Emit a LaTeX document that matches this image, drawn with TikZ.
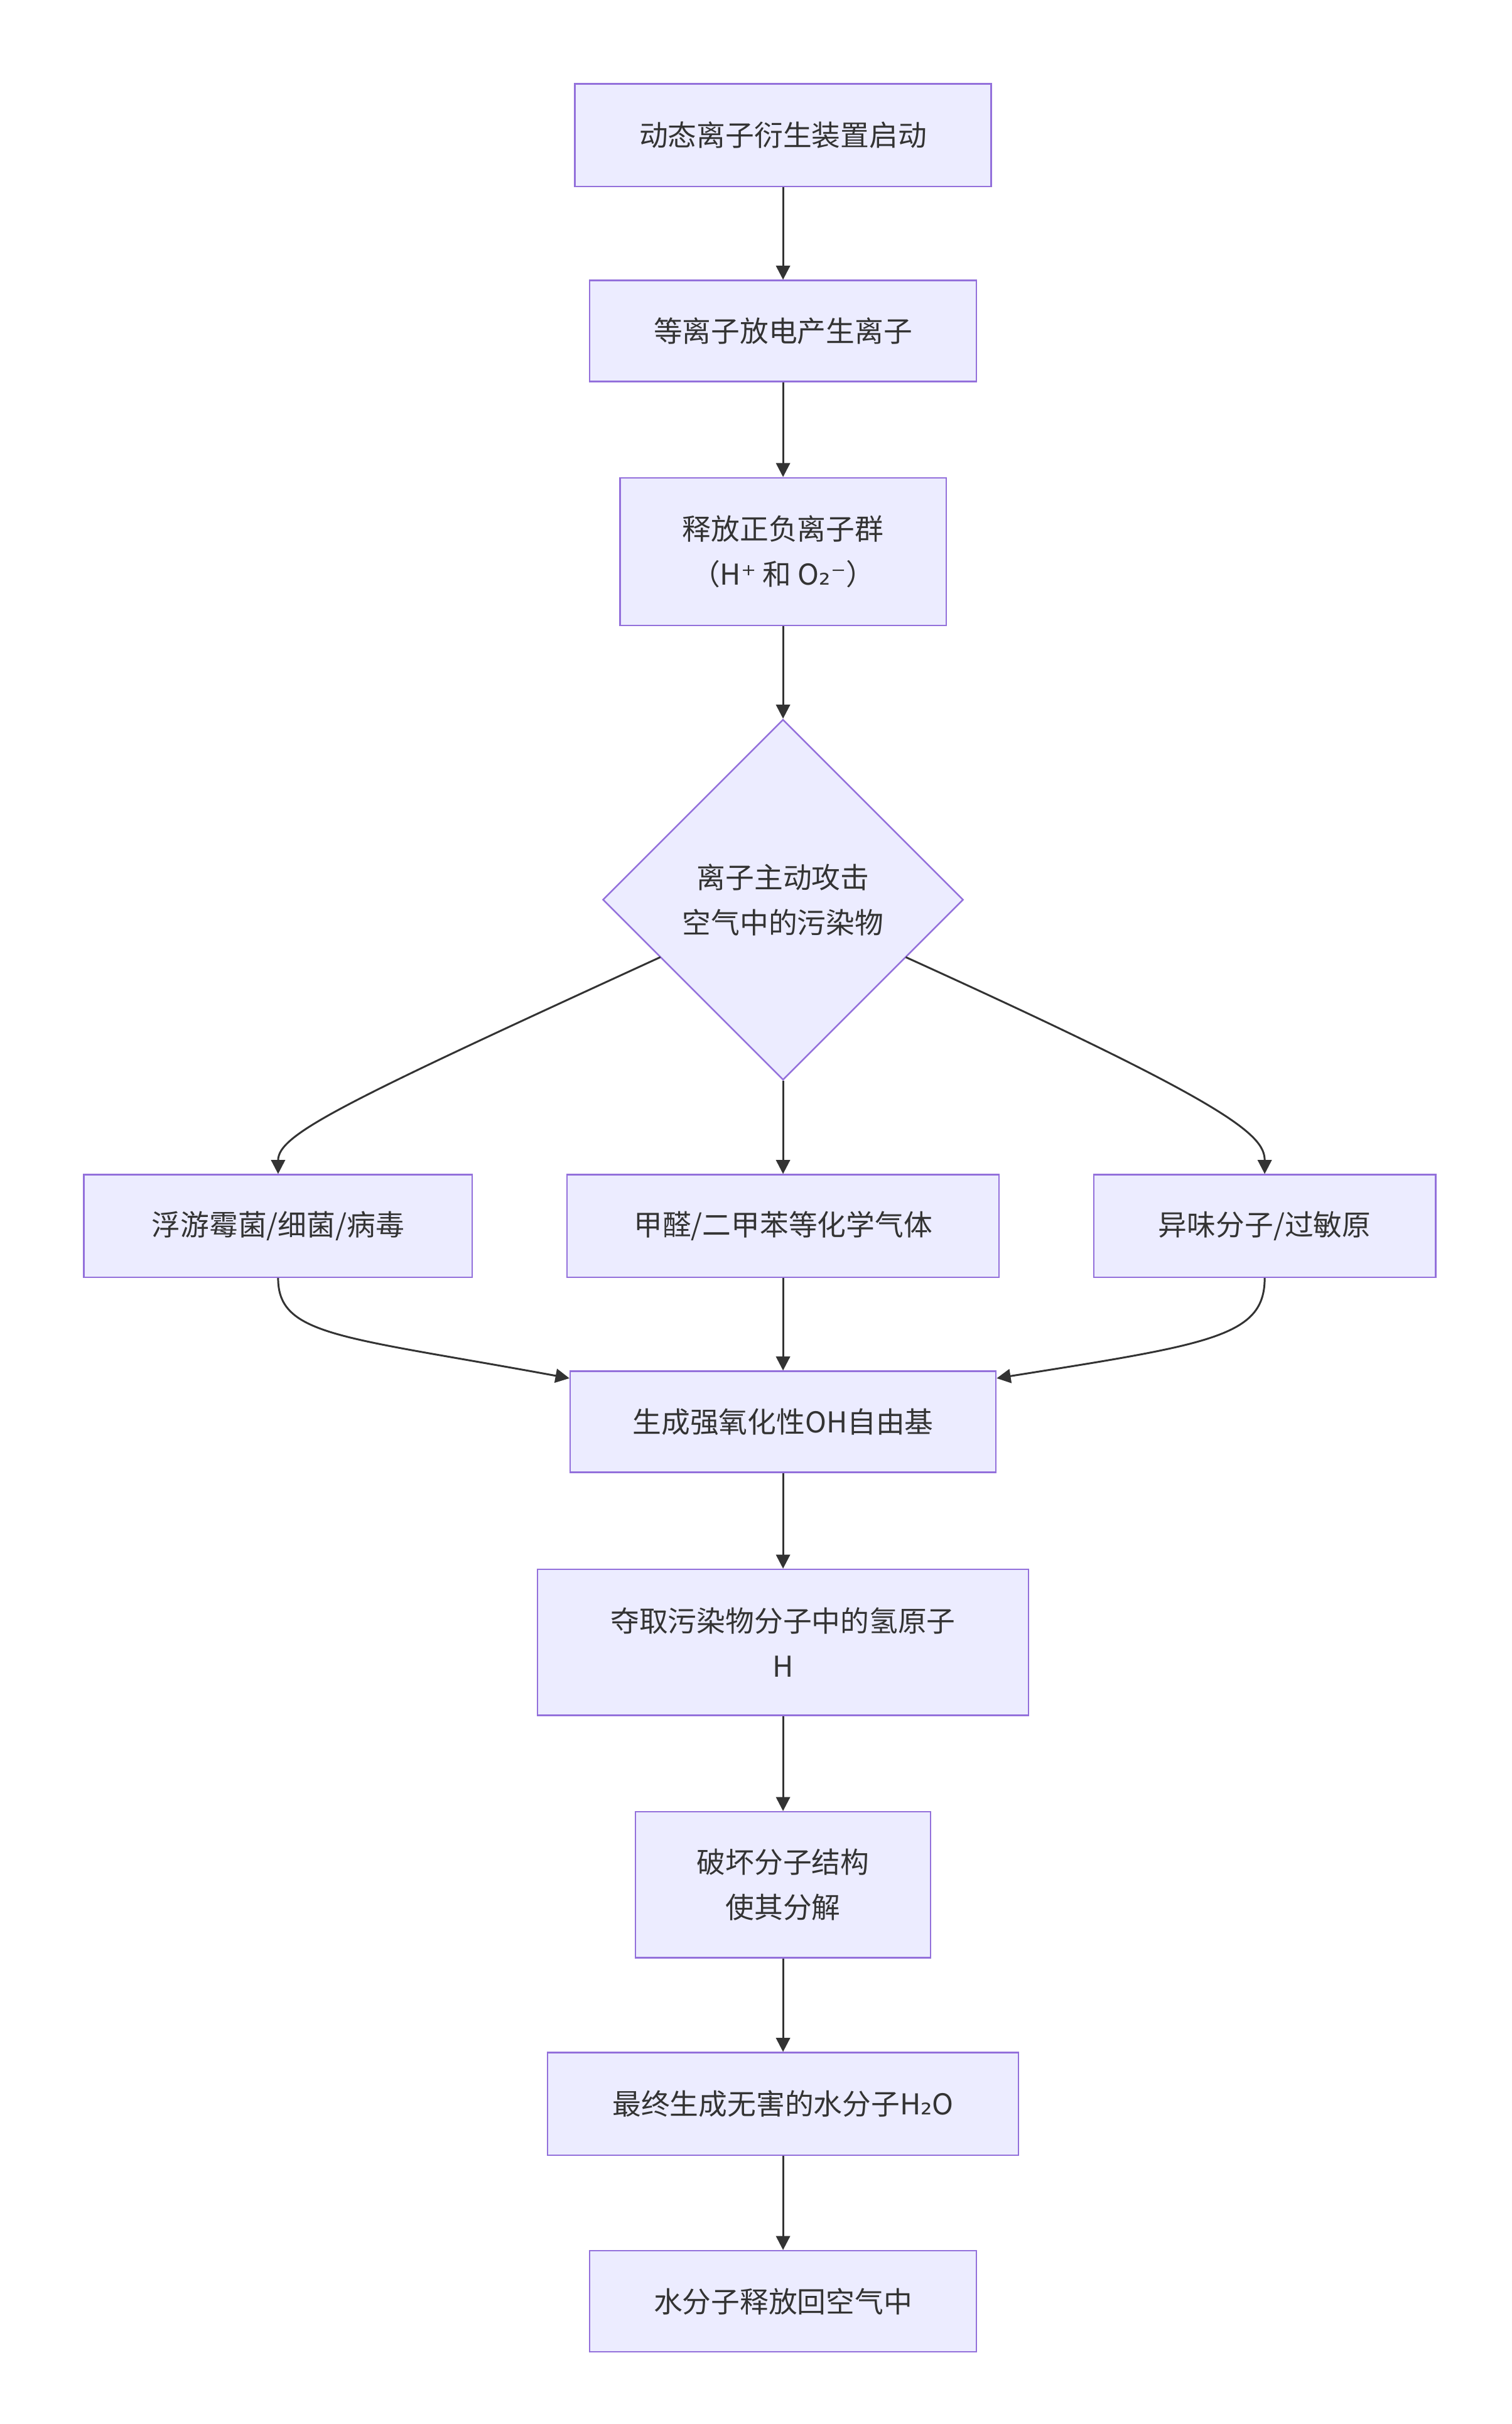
\documentclass[tikz,border=0pt]{standalone}
\usepackage{fontspec}
\setmainfont{Noto Sans CJK SC}
\newfontfamily\symf{DejaVu Sans}
\usetikzlibrary{shapes.geometric,arrows.meta}
\definecolor{bfill}{HTML}{ECECFF}
\definecolor{bline}{HTML}{9370DB}
\definecolor{ln}{HTML}{333333}
\begin{document}
\begin{tikzpicture}[x=1pt,y=-1pt,
 box/.style={draw=bline,fill=bfill,line width=1pt,inner sep=0pt,align=center,text=ln,font=\fontsize{18.5}{29}\selectfont},
 arr/.style={draw=ln,line width=1.2pt,-{Triangle[length=9pt,width=9pt]}}]
\useasboundingbox (0,0) rectangle (973,1560);
\node[box,minimum width=268pt,minimum height=66pt] (a) at (504,87) {动态离子衍生装置启动};
\node[box,minimum width=249pt,minimum height=65pt] (b) at (504,213) {等离子放电产生离子};
\node[box,minimum width=210pt,minimum height=95pt] (c) at (504,355) {释放正负离子群\\（H{\symf ⁺} 和 O{\symf ₂⁻}）};
\node[box,diamond,minimum width=232pt,minimum height=232pt] (d) at (504,579) {离子主动攻击\\空气中的污染物};
\node[box,minimum width=250pt,minimum height=66pt] (e) at (179,789) {浮游霉菌/细菌/病毒};
\node[box,minimum width=278pt,minimum height=66pt] (f) at (504,789) {甲醛/二甲苯等化学气体};
\node[box,minimum width=220pt,minimum height=66pt] (g) at (814,789) {异味分子/过敏原};
\node[box,minimum width=274pt,minimum height=65pt] (h) at (504,915) {生成强氧化性OH自由基};
\node[box,minimum width=316pt,minimum height=94pt] (i) at (504,1057) {夺取污染物分子中的氢原子\\H};
\node[box,minimum width=190pt,minimum height=94pt] (j) at (504,1213) {破坏分子结构\\使其分解};
\node[box,minimum width=303pt,minimum height=66pt] (k) at (504,1354) {最终生成无害的水分子H{\symf ₂}O};
\node[box,minimum width=249pt,minimum height=65pt] (l) at (504,1481) {水分子释放回空气中};
\coordinate (dl) at (425,616);
\coordinate (dr) at (583,616);
\draw[arr] (a) -- (b);
\draw[arr] (b) -- (c);
\draw[arr] (c) -- (d);
\draw[arr] (dl) .. controls (220,710) and (179,730) .. (e.north);
\draw[arr] (d) -- (f);
\draw[arr] (dr) .. controls (790,710) and (814,730) .. (g.north);
\draw[arr] (e.south) .. controls (179,860) and (220,860) .. (h.west|-0,887);
\draw[arr] (f) -- (h);
\draw[arr] (g.south) .. controls (814,860) and (780,865) .. (h.east|-0,887);
\draw[arr] (h) -- (i);
\draw[arr] (i) -- (j);
\draw[arr] (j) -- (k);
\draw[arr] (k) -- (l);
\end{tikzpicture}
\end{document}
